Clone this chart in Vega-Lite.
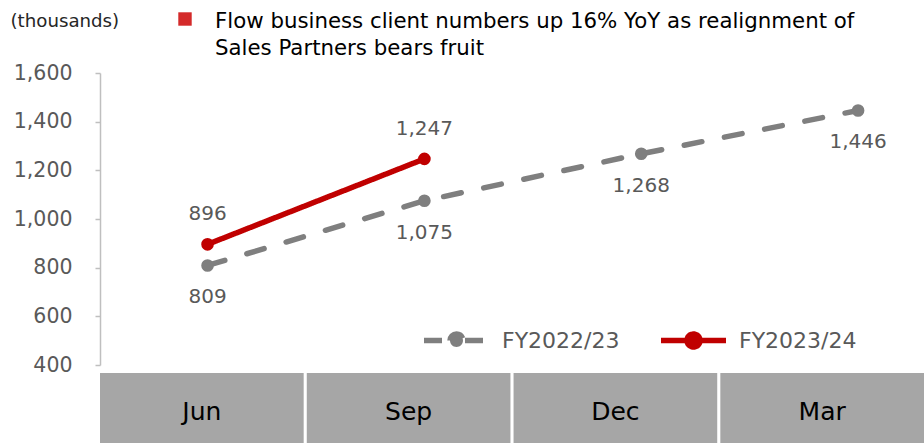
{
  "$schema": "https://vega.github.io/schema/vega-lite/v6.json",
  "padding": {"left": 10, "top": 10, "right": 0, "bottom": 0},
  "background": "white",
  "config": {"font": "DejaVu Sans", "view": {"stroke": null}},
  "bounds": "flush",
  "spacing": 8,
  "vconcat": [
    {
      "width": 824,
      "height": 292,
      "title": {
        "text": ["Flow business client numbers up 16% YoY as realignment of", "Sales Partners bears fruit"],
        "anchor": "start",
        "frame": "group",
        "dx": 115,
        "dy": 62,
        "offset": 14,
        "fontSize": 21.3,
        "fontWeight": "normal",
        "color": "#000000",
        "lineHeight": 27
      },
      "data": {
        "values": [
          {"month": "Jun", "series": "FY2022/23", "value": 809},
          {"month": "Sep", "series": "FY2022/23", "value": 1075},
          {"month": "Dec", "series": "FY2022/23", "value": 1268},
          {"month": "Mar", "series": "FY2022/23", "value": 1446},
          {"month": "Jun", "series": "FY2023/24", "value": 896},
          {"month": "Sep", "series": "FY2023/24", "value": 1247}
        ]
      },
      "encoding": {
        "x": {
          "field": "month",
          "type": "nominal",
          "sort": ["Jun", "Sep", "Dec", "Mar"],
          "scale": {"type": "point", "padding": 0.4, "align": 0.62},
          "axis": null
        },
        "y": {
          "field": "value",
          "type": "quantitative",
          "scale": {"domain": [400, 1600], "nice": false, "zero": false},
          "axis": {
            "values": [400, 600, 800, 1000, 1200, 1400, 1600],
            "format": ",d",
            "title": "(thousands)",
            "titleAngle": 0,
            "titleAlign": "left",
            "titleBaseline": "middle",
            "titleX": -90,
            "titleY": -52,
            "titleFontSize": 18.2,
            "titleFontWeight": "normal",
            "titleColor": "#262626",
            "labelFontSize": 20.5,
            "labelColor": "#595959",
            "labelPadding": 23,
            "tickSize": 5,
            "tickColor": "#bfbfbf",
            "domainColor": "#bfbfbf",
            "domainWidth": 1.5,
            "tickWidth": 1.5,
            "grid": false
          }
        }
      },
      "layer": [
        {
          "mark": {"type": "line", "strokeWidth": 5.5, "strokeCap": "round"},
          "encoding": {
            "color": {
              "field": "series",
              "type": "nominal",
              "scale": {"domain": ["FY2022/23", "FY2023/24"], "range": ["#7f7f7f", "#c00000"]},
              "legend": {
                "orient": "none",
                "legendX": 321,
                "legendY": 232,
                "direction": "horizontal",
                "title": null,
                "symbolType": "M-1,0L1,0M-0.2,0A0.2,0.2,0,1,1,0.2,0A0.2,0.2,0,1,1,-0.2,0Z",
                "symbolSize": 4225,
                "symbolStrokeWidth": 5.5,
                "labelFontSize": 22,
                "labelColor": "#595959",
                "labelOffset": 10,
                "columnPadding": 30,
                "padding": 0,
                "encode": {"symbols": {"update": {"fill": {"scale": "color", "field": "value"}}}}
              }
            },
            "strokeDash": {
              "field": "series",
              "type": "nominal",
              "scale": {"domain": ["FY2022/23", "FY2023/24"], "range": [[18, 23], [1, 0]]},
              "legend": {
                "orient": "none",
                "legendX": 321,
                "legendY": 232,
                "direction": "horizontal",
                "title": null,
                "symbolType": "M-1,0L1,0M-0.2,0A0.2,0.2,0,1,1,0.2,0A0.2,0.2,0,1,1,-0.2,0Z",
                "symbolSize": 4225,
                "symbolStrokeWidth": 5.5,
                "labelFontSize": 22,
                "labelColor": "#595959",
                "labelOffset": 10,
                "columnPadding": 30,
                "padding": 0,
                "encode": {"symbols": {"update": {"fill": {"scale": "color", "field": "value"}}}}
              }
            }
          }
        },
        {
          "mark": {"type": "point", "filled": true, "size": 160, "opacity": 1},
          "encoding": {
            "color": {"field": "series", "type": "nominal", "legend": null}
          }
        },
        {
          "transform": [{"filter": "datum.series === 'FY2022/23'"}],
          "mark": {"type": "text", "dy": 32, "fontSize": 20, "color": "#595959"},
          "encoding": {"text": {"field": "value", "type": "quantitative", "format": ","}}
        },
        {
          "transform": [{"filter": "datum.series === 'FY2023/24'"}],
          "mark": {"type": "text", "dy": -30, "fontSize": 20, "color": "#595959"},
          "encoding": {"text": {"field": "value", "type": "quantitative", "format": ","}}
        },
        {
          "data": {"values": [{"note": "highlight"}]},
          "mark": {"type": "point", "filled": true, "opacity": 0, "color": "#d42a2a"},
          "encoding": {
            "x": {"value": 0},
            "y": {"value": 0},
            "shape": {
              "field": "note",
              "type": "nominal",
              "scale": {"range": ["square"]},
              "legend": {
                "orient": "none",
                "legendX": 78,
                "legendY": -61,
                "title": null,
                "symbolSize": 180,
                "symbolOpacity": 1,
                "symbolFillColor": "#d42a2a",
                "symbolStrokeWidth": 0,
                "labelExpr": "''",
                "labelFontSize": 1,
                "padding": 0
              }
            }
          }
        }
      ]
    },
    {
      "width": 824,
      "height": 70,
      "data": {"values": [{"month": "Jun"}, {"month": "Sep"}, {"month": "Dec"}, {"month": "Mar"}]},
      "encoding": {
        "x": {
          "field": "month",
          "type": "nominal",
          "sort": ["Jun", "Sep", "Dec", "Mar"],
          "scale": {"paddingInner": 0.015, "paddingOuter": 0},
          "axis": null
        }
      },
      "layer": [
        {"mark": {"type": "rect", "color": "#a6a6a6"}},
        {
          "mark": {"type": "text", "fontSize": 25, "color": "#000000", "dy": 4},
          "encoding": {"text": {"field": "month", "type": "nominal"}}
        }
      ]
    }
  ]
}
